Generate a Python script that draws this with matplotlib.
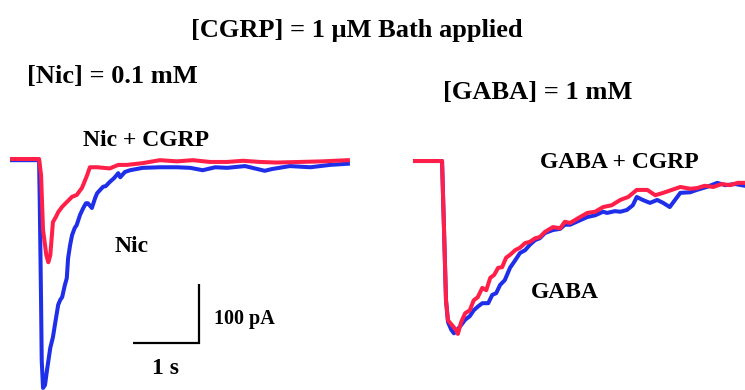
import matplotlib
matplotlib.use("Agg")
import matplotlib.pyplot as plt

W, H = 745, 390
RED = "#ff1f48"
BLUE = "#1f2ee8"

# ---- Nicotine-evoked currents (time in s, current in pA) ----
nic_cgrp_t = [0, 0.2, 0.41, 0.44, 0.47, 0.52, 0.55, 0.58, 0.62, 0.67, 0.70, 0.76, 0.83,
              0.91, 0.98, 1.06, 1.14, 1.18, 1.29, 1.39, 1.48, 1.61, 1.74, 1.98, 2.24,
              2.5, 2.74, 3.0, 3.26, 3.5, 3.76, 4.0, 4.36, 4.7, 5.09]
nic_cgrp_i = [0, 0, 0, -27, -120, -163, -175, -163, -107, -97, -90, -81, -73,
              -64, -61, -49, -27, -14, -14, -15, -16, -10, -10, -7, -2,
              -4, -2, -5, -5, -3, -5, -6, -5, -4, -2]

nic_t = [0, 0.41, 0.42, 0.44, 0.45, 0.47, 0.50, 0.53, 0.58, 0.62, 0.65, 0.70, 0.73,
         0.76, 0.80, 0.83, 0.85, 0.88, 0.91, 0.95, 0.98, 1.03, 1.08, 1.12, 1.15,
         1.21, 1.26, 1.29, 1.33, 1.38, 1.42, 1.48, 1.55, 1.61, 1.64, 1.71, 1.79,
         1.98, 2.24, 2.50, 2.70, 2.89, 3.08, 3.26, 3.53, 3.83, 3.94, 4.21, 4.52,
         4.82, 5.09]
nic_i = [-2, -2, -70, -239, -341, -388, -383, -358, -320, -302, -281, -247, -239,
         -234, -214, -202, -168, -146, -129, -117, -112, -95, -83, -75, -75,
         -83, -66, -58, -53, -47, -46, -39, -32, -24, -31, -22, -19,
         -15, -14, -14, -15, -19, -14, -15, -12, -20, -17, -12, -14,
         -10, -8]

# ---- GABA-evoked currents (time in s, current in pA) ----
gaba_cgrp_t = [0, 0.23, 0.41, 0.44, 0.47, 0.50, 0.56, 0.62, 0.65, 0.70, 0.76, 0.83,
               0.89, 0.95, 1.02, 1.08, 1.14, 1.20, 1.26, 1.32, 1.38, 1.44, 1.52,
               1.59, 1.67, 1.74, 1.82, 1.89, 1.97, 2.09, 2.20, 2.27, 2.35, 2.47,
               2.61, 2.73, 2.85, 2.98, 3.11, 3.23, 3.36, 3.52, 3.64, 3.76, 3.89,
               4.02, 4.17, 4.27, 4.39, 4.52, 4.65, 4.77, 4.89, 5.0]
gaba_cgrp_i = [0, 0, 0, -117, -236, -270, -278, -286, -293, -273, -258, -253,
               -236, -231, -215, -219, -198, -193, -181, -180, -164, -159, -151,
               -147, -139, -137, -131, -129, -120, -112, -114, -103, -105, -97,
               -88, -86, -78, -75, -66, -61, -49, -49, -58, -54, -49,
               -44, -47, -46, -42, -44, -39, -41, -37, -37]

gaba_t = [0, 0.41, 0.44, 0.47, 0.50, 0.55, 0.59, 0.64, 0.70, 0.76, 0.83, 0.89,
          0.95, 1.02, 1.11, 1.17, 1.23, 1.29, 1.36, 1.44, 1.52, 1.59, 1.67, 1.74,
          1.82, 1.89, 1.97, 2.09, 2.20, 2.27, 2.35, 2.47, 2.61, 2.73, 2.85, 2.91,
          3.03, 3.11, 3.21, 3.30, 3.36, 3.45, 3.56, 3.67, 3.76, 3.86, 3.94, 4.02,
          4.17, 4.27, 4.42, 4.58, 4.70, 4.85, 5.0]
gaba_i = [0, 0, -117, -236, -273, -286, -292, -286, -278, -269, -263, -253,
          -247, -241, -241, -227, -224, -210, -202, -181, -168, -156, -151, -142,
          -134, -131, -122, -117, -115, -108, -108, -102, -95, -92, -86, -88,
          -85, -86, -83, -75, -61, -66, -71, -66, -71, -78, -66, -54,
          -53, -49, -44, -37, -41, -39, -42]

# scale bar sizes
bar_time = 1.0     # s
bar_current = 100  # pA

fig = plt.figure(figsize=(W / 100, H / 100), dpi=100)


def px_axes(x0, x1, y0, y1):
    return fig.add_axes([x0 / W, 1 - y1 / H, (x1 - x0) / W, (y1 - y0) / H])


def ftext(x, y, s, size, **kw):
    fig.text(x / W, 1 - y / H, s, fontsize=size, family="Liberation Serif",
             weight="bold", va="center", **kw)


lw = 2.9

ax1 = px_axes(0, 360, 140, 392)
ax1.plot(nic_t, nic_i, color=BLUE, lw=lw, solid_joinstyle="round")
ax1.plot(nic_cgrp_t, nic_cgrp_i, color=RED, lw=lw, solid_joinstyle="round")
ax1.set_xlim(-0.182, 5.273)
ax1.set_ylim(-394.9, 32.2)
# scale bar: 1 s / 100 pA
sb_t, sb_i = 1.833, -311.9
ax1.plot([sb_t, sb_t + bar_time, sb_t + bar_time],
         [sb_i, sb_i, sb_i + bar_current], color="black", lw=1.6,
         solid_capstyle="butt", solid_joinstyle="miter")
ax1.axis("off")

ax2 = px_axes(400, 745, 140, 392)
ax2.plot(gaba_t, gaba_i, color=BLUE, lw=lw, solid_joinstyle="round")
ax2.plot(gaba_cgrp_t, gaba_cgrp_i, color=RED, lw=lw, solid_joinstyle="round")
ax2.set_xlim(-0.227, 5.0)
ax2.set_ylim(-391.5, 35.6)
ax2.axis("off")

ftext(357, 31, "[CGRP] = 1 \u03bcM Bath applied", 19, ha="center")
ftext(27, 77, "[Nic] = 0.1 mM", 19, ha="left")
ftext(443, 93, "[GABA] = 1 mM", 19, ha="left")
ftext(83, 140, "Nic + CGRP", 17, ha="left")
ftext(115, 247, "Nic", 17, ha="left")
ftext(540, 162, "GABA + CGRP", 17, ha="left")
ftext(531, 293, "GABA", 17, ha="left")
ftext(214, 319, "100 pA", 14.5, ha="left")
ftext(152, 369, "1 s", 17, ha="left")

fig.savefig("out.png", dpi=100)
